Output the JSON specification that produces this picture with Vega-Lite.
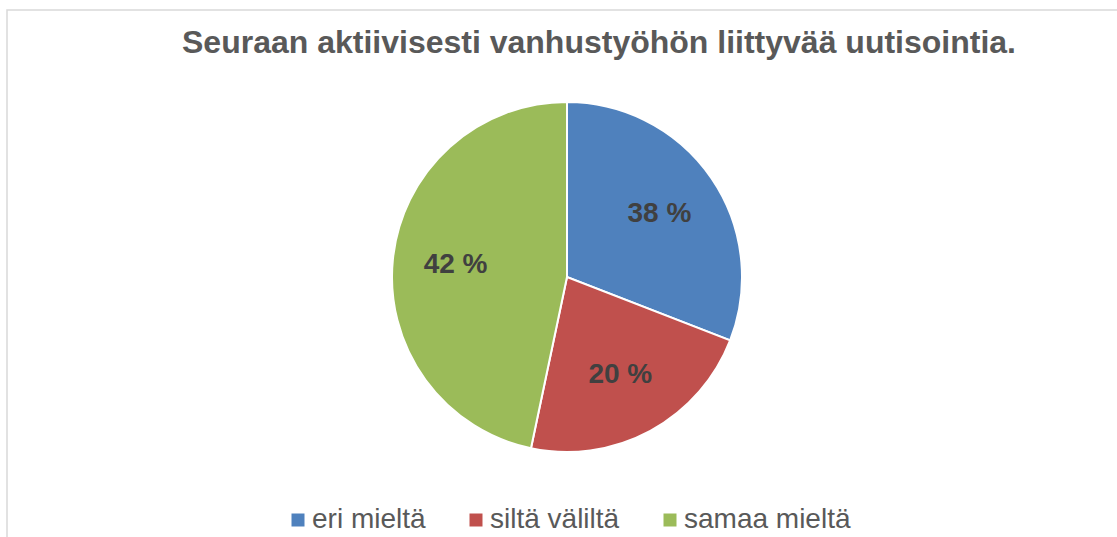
{
  "$schema": "https://vega.github.io/schema/vega-lite/v6.json",
  "width": 1120,
  "height": 534,
  "autosize": {"type": "none"},
  "padding": {"left": 7, "top": 10, "right": 0, "bottom": 0},
  "background": "white",
  "view": {"stroke": "#d9d9d9", "strokeWidth": 1.5, "fill": "white"},
  "title": {
    "text": "Seuraan aktiivisesti vanhustyöhön liittyvää uutisointia.",
    "font": "Liberation Sans",
    "fontSize": 32,
    "fontWeight": "bold",
    "color": "#595959",
    "anchor": "middle",
    "dx": 32,
    "offset": -50
  },
  "data": {
    "values": [
      {"vastaus": "eri mieltä", "nr": 1, "osuus": 30.9, "otsikko": "38 %"},
      {"vastaus": "siltä väliltä", "nr": 2, "osuus": 22.4, "otsikko": "20 %"},
      {"vastaus": "samaa mieltä", "nr": 3, "osuus": 46.7, "otsikko": "42 %"}
    ]
  },
  "encoding": {
    "theta": {"field": "osuus", "type": "quantitative", "stack": true},
    "order": {"field": "nr", "type": "quantitative"}
  },
  "layer": [
    {
      "mark": {"type": "arc", "outerRadius": 175, "stroke": "white", "strokeWidth": 2},
      "encoding": {
        "color": {
          "field": "vastaus",
          "type": "nominal",
          "sort": ["eri mieltä", "siltä väliltä", "samaa mieltä"],
          "scale": {
            "domain": ["eri mieltä", "siltä väliltä", "samaa mieltä"],
            "range": ["#4F81BD", "#C0504D", "#9BBB59"]
          },
          "legend": {
            "title": null,
            "orient": "bottom",
            "direction": "horizontal",
            "offset": -38,
            "symbolType": "square",
            "symbolSize": 169,
            "symbolStrokeWidth": 0,
            "labelFont": "Liberation Sans",
            "labelFontSize": 28,
            "labelColor": "#595959",
            "labelOffset": 0,
            "columnPadding": 36,
            "labelLimit": 400
          }
        }
      }
    },
    {
      "mark": {
        "type": "text",
        "radius": 112,
        "font": "Liberation Sans",
        "fontSize": 28,
        "fontWeight": "bold",
        "fill": "#404040"
      },
      "encoding": {
        "text": {"field": "otsikko", "type": "nominal"}
      }
    }
  ],
  "config": {
    "view": {"stroke": "#d9d9d9", "strokeWidth": 1.5},
    "legend": {"layout": {"bottom": {"anchor": "middle"}}}
  }
}
